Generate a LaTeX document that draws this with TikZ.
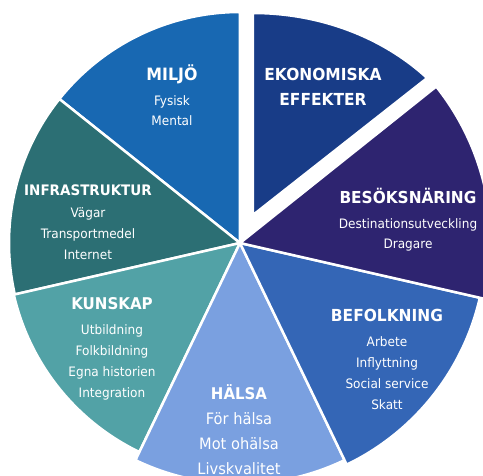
\documentclass[tikz,border=0pt]{standalone}
\usepackage{fontspec}
\setmainfont{DejaVu Sans}[FakeStretch=0.93]

\definecolor{miljo}{RGB}{24,104,178}
\definecolor{ekonomi}{RGB}{24,60,135}
\definecolor{besok}{RGB}{46,36,112}
\definecolor{befolk}{RGB}{52,102,182}
\definecolor{halsa}{RGB}{122,160,224}
\definecolor{kunskap}{RGB}{82,162,166}
\definecolor{infra}{RGB}{44,111,116}

\newcommand{\slicehead}[2][16.5]{{\bfseries\fontsize{#1}{21}\selectfont #2}}

\begin{document}
\begin{tikzpicture}[x=1pt, y=1pt,
    slice/.style={draw=white, line width=2.5pt, line join=round},
    lbl/.style={text=white, align=center, font=\fontsize{13}{21}\selectfont}]
  \useasboundingbox (-240,-232) rectangle (243,243);
  \clip (-240,-232) rectangle (243,243);
  % the seven slices, apex at the origin
  \filldraw [slice, fill=miljo] (0,0) -- (90:231pt) arc [start angle=90, end angle=141.43, radius=231pt] -- cycle;
  \filldraw [slice, fill=infra] (0,0) -- (141.43:231pt) arc [start angle=141.43, end angle=192.86, radius=231pt] -- cycle;
  \filldraw [slice, fill=kunskap] (0,0) -- (192.86:232pt) arc [start angle=192.86, end angle=244.29, radius=232pt] -- cycle;
  \filldraw [slice, fill=halsa] (0,0) -- (244.29:241pt) arc [start angle=244.29, end angle=295.71, radius=241pt] -- cycle;
  \filldraw [slice, fill=befolk] (0,0) -- (295.71:246pt) arc [start angle=295.71, end angle=347.14, radius=246pt] -- cycle;
  \filldraw [slice, fill=besok] (0,0) -- (347.14:251pt) arc [start angle=347.14, end angle=398.57, radius=251pt] -- cycle;
  % pulled-out slice
  \coordinate (ek) at (13,28);
  \filldraw [slice, fill=ekonomi] (ek) -- ++(0,202) arc [start angle=90, end angle=42.7, x radius=237pt, y radius=202pt] -- cycle;

  \node [lbl] (miljo) at (-68,148) {\slicehead[17]{MILJÖ}\\[4pt] Fysisk\\[-1pt] Mental};
  \node [lbl, font=\bfseries\fontsize{16.6}{25}\selectfont] (ekonomi) at (83,156.5) {EKONOMISKA\\ EFFEKTER};
  \node [lbl] (infra) at (-152,21) {\slicehead[14.5]{INFRASTRUKTUR}\\[1pt] Vägar\\ Transportmedel\\ Internet};
  \node [lbl] (besok) at (168,23.5) {\slicehead{BESÖKSNÄRING}\\[4pt] Destinationsutveckling\\[-1pt] Dragare};
  \node [lbl] (kunskap) at (-128,-105.5) {\slicehead[16.2]{KUNSKAP}\\[4pt] Utbildning\\ Folkbildning\\ Egna historien\\ Integration};
  \node [lbl] (befolk) at (147,-116.5) {\slicehead[16.6]{BEFOLKNING}\\[4pt] Arbete\\ Inflyttning\\ Social service\\ Skatt};
  \node [lbl, font=\fontsize{15.7}{25}\selectfont] (halsa) at (-1,-186.5) {\slicehead[16.1]{HÄLSA}\\ För hälsa\\ Mot ohälsa\\ Livskvalitet};
\end{tikzpicture}
\end{document}
